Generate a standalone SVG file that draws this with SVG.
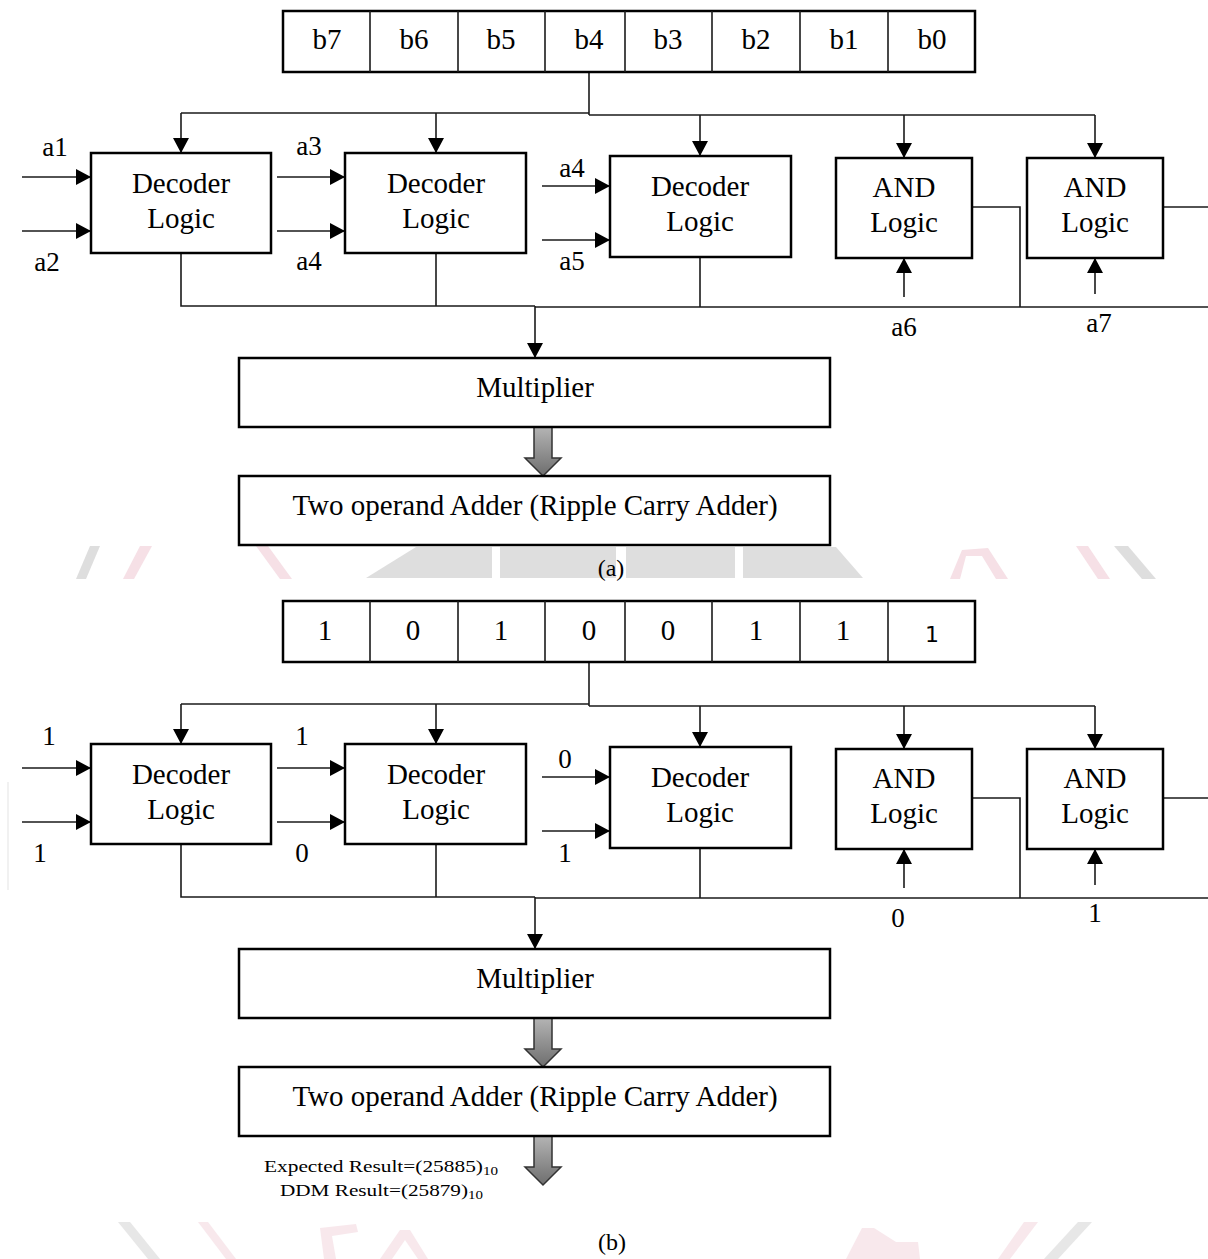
<svg xmlns="http://www.w3.org/2000/svg" width="1208" height="1259" viewBox="0 0 1208 1259">
<style>
.box{fill:#fff;stroke:#000;stroke-width:2.5}
.wire{fill:none;stroke:#1a1a1a;stroke-width:1.6}
.arr{fill:none;stroke:#1a1a1a;stroke-width:1.6;marker-end:url(#ah)}
.t{font-family:"Liberation Serif","Times New Roman",serif;font-size:29px;text-anchor:middle;fill:#000}
.l{font-family:"Liberation Serif","Times New Roman",serif;font-size:27px;text-anchor:middle;fill:#000}
.s{font-family:"DejaVu Sans",sans-serif;font-size:22px;text-anchor:middle;fill:#000}
.small{font-family:"Liberation Serif","Times New Roman",serif;font-size:17px;fill:#000}
.cap{font-family:"Liberation Serif","Times New Roman",serif;font-size:24px;text-anchor:middle;fill:#000}
.wg{fill:#d4d4d4}
.wp{fill:#f3d6de}
.big{fill:url(#gg);stroke:#333;stroke-width:1.5}
</style>
<defs>
<marker id="ah" markerUnits="userSpaceOnUse" markerWidth="16" markerHeight="16" viewBox="0 0 16 16" refX="15" refY="8" orient="auto">
<path d="M0,0 L15,8 L0,16 Z" fill="#000"/>
</marker>
<linearGradient id="gg" x1="0" y1="0" x2="0" y2="1">
<stop offset="0" stop-color="#b4b4b4"/>
<stop offset="1" stop-color="#6e6e6e"/>
</linearGradient>
</defs>
<rect width="1208" height="1259" fill="#fff"/>
<g id="watermark" opacity="0.75">
<polygon class="wg" points="416,547 836,547 863,578 366,578"/>
<rect x="492" y="547" width="8" height="31" fill="#fff"/>
<rect x="616" y="547" width="10" height="31" fill="#fff"/>
<rect x="735" y="547" width="8" height="31" fill="#fff"/>
<polygon class="wg" points="90,546 100,546 86,579 76,579"/>
<polygon class="wp" points="140,546 152,546 134,579 123,579"/>
<polygon class="wp" points="256,546 268,546 292,579 280,579"/>
<polygon class="wp" points="950,579 962,550 988,548 1008,579 996,579 982,556 966,556 960,579"/>
<polygon class="wp" points="1076,546 1088,546 1110,579 1098,579"/>
<polygon class="wg" points="1114,546 1128,546 1156,579 1142,579"/>
</g>
<g id="watermark-b" opacity="0.55">
<polygon class="wg" points="118,1222 130,1222 160,1259 148,1259"/>
<polygon class="wp" points="198,1222 208,1222 236,1259 226,1259"/>
<polygon class="wp" points="320,1228 356,1224 358,1232 332,1236 336,1259 324,1259"/>
<polygon class="wp" points="380,1259 400,1230 410,1230 428,1259 418,1259 405,1240 392,1259"/>
<polygon class="wp" points="846,1259 862,1228 874,1228 896,1242 918,1242 920,1259"/>
<polygon class="wp" points="1024,1222 1038,1222 1010,1259 998,1259"/>
<polygon class="wg" points="1078,1222 1092,1222 1058,1259 1044,1259"/>
<line x1="8" y1="782" x2="8" y2="890" stroke="#e6e6e6" stroke-width="2"/>
</g>

<!-- ===================== (a) ===================== -->
<g id="partA">
<g id="connectors-a">
<polyline class="wire" points="589,72 589,115"/>
<polyline class="wire" points="181,113 589,113"/>
<polyline class="wire" points="589,115 1095,115"/>
<line class="arr" x1="181" y1="113" x2="181" y2="153"/>
<line class="arr" x1="436" y1="113" x2="436" y2="153"/>
<line class="arr" x1="700" y1="115" x2="700" y2="156"/>
<line class="arr" x1="904" y1="115" x2="904" y2="158"/>
<line class="arr" x1="1095" y1="115" x2="1095" y2="158"/>
<line class="arr" x1="22" y1="177" x2="91" y2="177"/>
<line class="arr" x1="22" y1="231" x2="91" y2="231"/>
<line class="arr" x1="277" y1="177" x2="345" y2="177"/>
<line class="arr" x1="277" y1="231" x2="345" y2="231"/>
<line class="arr" x1="542" y1="186" x2="610" y2="186"/>
<line class="arr" x1="542" y1="240" x2="610" y2="240"/>
<line class="arr" x1="904" y1="297" x2="904" y2="258"/>
<line class="arr" x1="1095" y1="294" x2="1095" y2="258"/>
<polyline class="wire" points="181,253 181,306 535,306"/>
<line class="wire" x1="436" y1="253" x2="436" y2="306"/>
<polyline class="wire" points="535,307 1208,307"/>
<line class="wire" x1="700" y1="257" x2="700" y2="307"/>
<polyline class="wire" points="972,207 1020,207 1020,307"/>
<line class="wire" x1="1163" y1="207" x2="1208" y2="207"/>
<line class="arr" x1="535" y1="306" x2="535" y2="358"/>
<polygon class="big" points="534,427 552,427 552,458 561,458 543,476 525,458 534,458"/>
</g>
<g id="register-a">
<rect class="box" x="283" y="11" width="692" height="61"/>
<line class="wire" stroke-width="2.2" x1="370" y1="11" x2="370" y2="72"/>
<line class="wire" stroke-width="2.2" x1="458" y1="11" x2="458" y2="72"/>
<line class="wire" stroke-width="2.2" x1="545" y1="11" x2="545" y2="72"/>
<line class="wire" stroke-width="2.2" x1="625" y1="11" x2="625" y2="72"/>
<line class="wire" stroke-width="2.2" x1="712" y1="11" x2="712" y2="72"/>
<line class="wire" stroke-width="2.2" x1="800" y1="11" x2="800" y2="72"/>
<line class="wire" stroke-width="2.2" x1="888" y1="11" x2="888" y2="72"/>
<text class="t" x="327" y="49">b7</text>
<text class="t" x="414" y="49">b6</text>
<text class="t" x="501" y="49">b5</text>
<text class="t" x="589" y="49">b4</text>
<text class="t" x="668" y="49">b3</text>
<text class="t" x="756" y="49">b2</text>
<text class="t" x="844" y="49">b1</text>
<text class="t" x="932" y="49">b0</text>
</g>
<g id="decoder1-a"><rect class="box" x="91" y="153" width="180" height="100"/><text class="t" x="181" y="193">Decoder</text><text class="t" x="181" y="228">Logic</text></g>
<g id="decoder2-a"><rect class="box" x="345" y="153" width="181" height="100"/><text class="t" x="436" y="193">Decoder</text><text class="t" x="436" y="228">Logic</text></g>
<g id="decoder3-a"><rect class="box" x="610" y="156" width="181" height="101"/><text class="t" x="700" y="196">Decoder</text><text class="t" x="700" y="231">Logic</text></g>
<g id="and1-a"><rect class="box" x="836" y="158" width="136" height="100"/><text class="t" x="904" y="197">AND</text><text class="t" x="904" y="232">Logic</text></g>
<g id="and2-a"><rect class="box" x="1027" y="158" width="136" height="100"/><text class="t" x="1095" y="197">AND</text><text class="t" x="1095" y="232">Logic</text></g>
<g id="multiplier-a"><rect class="box" x="239" y="358" width="591" height="69"/><text class="t" x="535" y="397">Multiplier</text></g>
<g id="adder-a"><rect class="box" x="239" y="476" width="591" height="69"/><text class="t" x="535" y="515">Two operand Adder (Ripple Carry Adder)</text></g>
<g id="labels-a">
<text class="l" x="55" y="156">a1</text>
<text class="l" x="47" y="271">a2</text>
<text class="l" x="309" y="155">a3</text>
<text class="l" x="309" y="270">a4</text>
<text class="l" x="572" y="177">a4</text>
<text class="l" x="572" y="270">a5</text>
<text class="l" x="904" y="336">a6</text>
<text class="l" x="1099" y="332">a7</text>
<text class="cap" x="611" y="576">(a)</text>
</g>
</g>

<!-- ===================== (b) ===================== -->
<g id="partB" transform="translate(0,591)">
<g id="connectors-b">
<polyline class="wire" points="589,72 589,115"/>
<polyline class="wire" points="181,113 589,113"/>
<polyline class="wire" points="589,115 1095,115"/>
<line class="arr" x1="181" y1="113" x2="181" y2="153"/>
<line class="arr" x1="436" y1="113" x2="436" y2="153"/>
<line class="arr" x1="700" y1="115" x2="700" y2="156"/>
<line class="arr" x1="904" y1="115" x2="904" y2="158"/>
<line class="arr" x1="1095" y1="115" x2="1095" y2="158"/>
<line class="arr" x1="22" y1="177" x2="91" y2="177"/>
<line class="arr" x1="22" y1="231" x2="91" y2="231"/>
<line class="arr" x1="277" y1="177" x2="345" y2="177"/>
<line class="arr" x1="277" y1="231" x2="345" y2="231"/>
<line class="arr" x1="542" y1="186" x2="610" y2="186"/>
<line class="arr" x1="542" y1="240" x2="610" y2="240"/>
<line class="arr" x1="904" y1="297" x2="904" y2="258"/>
<line class="arr" x1="1095" y1="294" x2="1095" y2="258"/>
<polyline class="wire" points="181,253 181,306 535,306"/>
<line class="wire" x1="436" y1="253" x2="436" y2="306"/>
<polyline class="wire" points="535,307 1208,307"/>
<line class="wire" x1="700" y1="257" x2="700" y2="307"/>
<polyline class="wire" points="972,207 1020,207 1020,307"/>
<line class="wire" x1="1163" y1="207" x2="1208" y2="207"/>
<line class="arr" x1="535" y1="306" x2="535" y2="358"/>
<polygon class="big" points="534,427 552,427 552,458 561,458 543,476 525,458 534,458"/>
<polygon class="big" points="534,545 552,545 552,576 561,576 543,594 525,576 534,576"/>
</g>
<g id="register-b">
<rect class="box" x="283" y="10" width="692" height="61"/>
<line class="wire" stroke-width="2.2" x1="370" y1="10" x2="370" y2="71"/>
<line class="wire" stroke-width="2.2" x1="458" y1="10" x2="458" y2="71"/>
<line class="wire" stroke-width="2.2" x1="545" y1="10" x2="545" y2="71"/>
<line class="wire" stroke-width="2.2" x1="625" y1="10" x2="625" y2="71"/>
<line class="wire" stroke-width="2.2" x1="712" y1="10" x2="712" y2="71"/>
<line class="wire" stroke-width="2.2" x1="800" y1="10" x2="800" y2="71"/>
<line class="wire" stroke-width="2.2" x1="888" y1="10" x2="888" y2="71"/>
<text class="t" x="325" y="49">1</text>
<text class="t" x="413" y="49">0</text>
<text class="t" x="501" y="49">1</text>
<text class="t" x="589" y="49">0</text>
<text class="t" x="668" y="49">0</text>
<text class="t" x="756" y="49">1</text>
<text class="t" x="843" y="49">1</text>
<text class="s" x="932" y="51">1</text>
</g>
<g id="decoder1-b"><rect class="box" x="91" y="153" width="180" height="100"/><text class="t" x="181" y="193">Decoder</text><text class="t" x="181" y="228">Logic</text></g>
<g id="decoder2-b"><rect class="box" x="345" y="153" width="181" height="100"/><text class="t" x="436" y="193">Decoder</text><text class="t" x="436" y="228">Logic</text></g>
<g id="decoder3-b"><rect class="box" x="610" y="156" width="181" height="101"/><text class="t" x="700" y="196">Decoder</text><text class="t" x="700" y="231">Logic</text></g>
<g id="and1-b"><rect class="box" x="836" y="158" width="136" height="100"/><text class="t" x="904" y="197">AND</text><text class="t" x="904" y="232">Logic</text></g>
<g id="and2-b"><rect class="box" x="1027" y="158" width="136" height="100"/><text class="t" x="1095" y="197">AND</text><text class="t" x="1095" y="232">Logic</text></g>
<g id="multiplier-b"><rect class="box" x="239" y="358" width="591" height="69"/><text class="t" x="535" y="397">Multiplier</text></g>
<g id="adder-b"><rect class="box" x="239" y="476" width="591" height="69"/><text class="t" x="535" y="515">Two operand Adder (Ripple Carry Adder)</text></g>
<g id="labels-b">
<text class="l" x="49" y="154">1</text>
<text class="l" x="40" y="271">1</text>
<text class="l" x="302" y="154">1</text>
<text class="l" x="302" y="271">0</text>
<text class="l" x="565" y="177">0</text>
<text class="l" x="565" y="271">1</text>
<text class="l" x="898" y="336">0</text>
<text class="l" x="1095" y="331">1</text>
<text class="small" x="264" y="581" textLength="234" lengthAdjust="spacingAndGlyphs">Expected Result=(25885)<tspan font-size="12" dy="3">10</tspan></text>
<text class="small" x="280" y="605" textLength="203" lengthAdjust="spacingAndGlyphs">DDM Result=(25879)<tspan font-size="12" dy="3">10</tspan></text>
<text class="cap" x="612" y="659">(b)</text>
</g>
</g>
</svg>
